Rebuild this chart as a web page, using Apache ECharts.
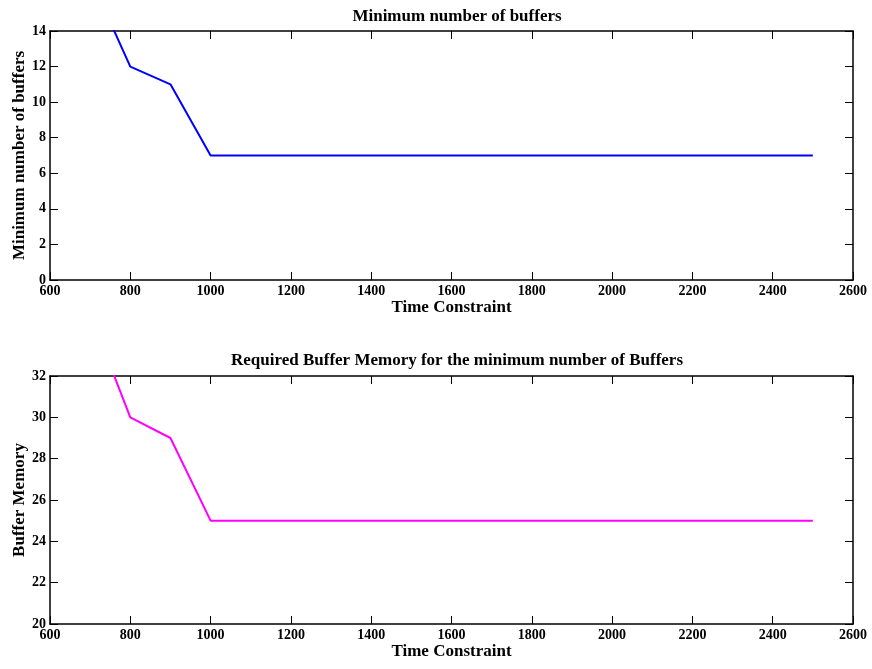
<!DOCTYPE html>
<html>
<head>
<meta charset="utf-8">
<script src="https://cdn.jsdelivr.net/npm/echarts@6/dist/echarts.min.js"></script>
<style>
html,body{margin:0;padding:0;background:#fff;}
#chart{width:872px;height:669px;}
</style>
</head>
<body>
<div id="chart"></div>
<script>
var timeConstraint = [700, 800, 900, 1000, 1100, 1200, 1300, 1400, 1500, 1600, 1700, 1800, 1900, 2000, 2100, 2200, 2300, 2400, 2500];
var minBuffers = [17, 12, 11, 7, 7, 7, 7, 7, 7, 7, 7, 7, 7, 7, 7, 7, 7, 7, 7];
var bufferMemory = [35, 30, 29, 25, 25, 25, 25, 25, 25, 25, 25, 25, 25, 25, 25, 25, 25, 25, 25];
var titles = ['Minimum number of buffers', 'Required Buffer Memory for the minimum number of Buffers'];
var xName = 'Time Constraint';
var yNames = ['Minimum number of buffers', 'Buffer Memory'];

var FONT = '"Liberation Serif", "Times New Roman", serif';
var chart = echarts.init(document.getElementById('chart'), null, {renderer: 'canvas'});

function pairs(xs, ys) { return xs.map(function (x, i) { return [x, ys[i]]; }); }
function plain(v) { return String(v); }

var grids = [
  {left: 50, right: 19, top: 31, height: 249, containLabel: false, outerBoundsMode: 'none'},
  {left: 50, right: 19, top: 376, height: 248, containLabel: false, outerBoundsMode: 'none'}
];
var yRanges = [[0, 14, 2], [20, 32, 2]];

var xAxes = [], yAxes = [];
var lineStyle = {color: '#000', width: 1.5};
var tick = {show: true, inside: true, length: 8, lineStyle: {color: '#000', width: 1}};
var nameStyle = {fontFamily: FONT, fontWeight: 'bold', fontSize: 17, color: '#000'};
var labelStyle = {fontFamily: FONT, fontWeight: 'bold', fontSize: 14, color: '#000'};
grids.forEach(function (g, gi) {
  xAxes.push({
    type: 'value', gridIndex: gi, position: 'bottom', min: 600, max: 2600, interval: 200,
    name: xName, nameLocation: 'middle', nameGap: 19, nameMoveOverlap: false, nameTextStyle: nameStyle,
    axisLine: {show: true, onZero: false, lineStyle: lineStyle},
    axisTick: tick, splitLine: {show: false},
    axisLabel: Object.assign({margin: 4, formatter: plain}, labelStyle)
  });
  xAxes.push({
    type: 'value', gridIndex: gi, position: 'top', min: 600, max: 2600, interval: 200,
    axisLine: {show: true, onZero: false, lineStyle: lineStyle},
    axisTick: tick, splitLine: {show: false}, axisLabel: {show: false}
  });
  yAxes.push({
    type: 'value', gridIndex: gi, position: 'left', min: yRanges[gi][0], max: yRanges[gi][1], interval: yRanges[gi][2],
    name: yNames[gi], nameLocation: 'middle', nameGap: 22, nameMoveOverlap: false, nameTextStyle: nameStyle,
    axisLine: {show: true, onZero: false, lineStyle: lineStyle},
    axisTick: tick, splitLine: {show: false},
    axisLabel: Object.assign({margin: 4, formatter: plain}, labelStyle)
  });
  yAxes.push({
    type: 'value', gridIndex: gi, position: 'right', min: yRanges[gi][0], max: yRanges[gi][1], interval: yRanges[gi][2],
    axisLine: {show: true, onZero: false, lineStyle: lineStyle},
    axisTick: tick, splitLine: {show: false}, axisLabel: {show: false}
  });
});

chart.setOption({
  animation: false,
  backgroundColor: '#fff',
  title: [
    {text: titles[0], left: 452, top: 3, textAlign: 'center',
     textStyle: {fontFamily: FONT, fontWeight: 'bold', fontSize: 17, color: '#000'}},
    {text: titles[1], left: 452, top: 347, textAlign: 'center',
     textStyle: {fontFamily: FONT, fontWeight: 'bold', fontSize: 17, color: '#000'}}
  ],
  grid: grids,
  xAxis: xAxes,
  yAxis: yAxes,
  series: [
    {type: 'line', xAxisIndex: 0, yAxisIndex: 0, data: pairs(timeConstraint, minBuffers),
     showSymbol: false, clip: true, lineStyle: {color: '#0000ff', width: 2}},
    {type: 'line', xAxisIndex: 2, yAxisIndex: 2, data: pairs(timeConstraint, bufferMemory),
     showSymbol: false, clip: true, lineStyle: {color: '#ff00ff', width: 2}}
  ]
});
</script>
</body>
</html>
